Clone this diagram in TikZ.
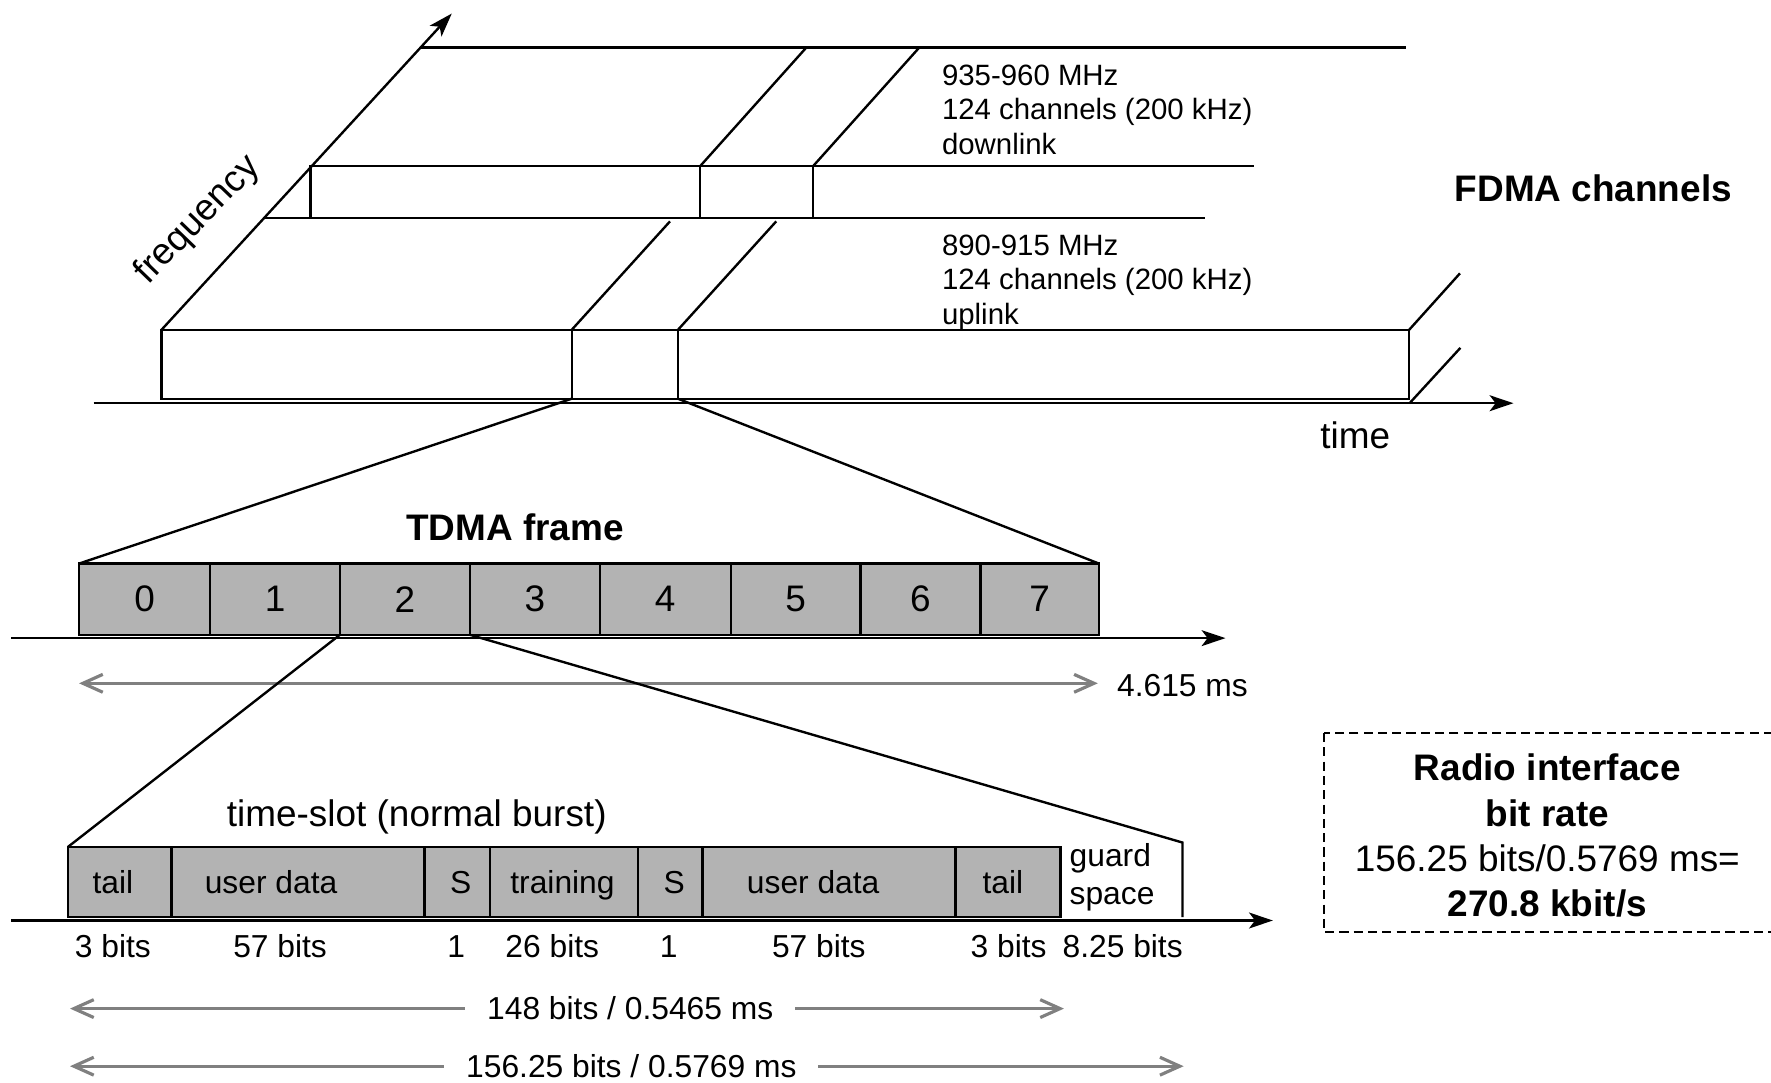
\documentclass[tikz,border=0pt]{standalone}
\usepackage{fontspec}
\setmainfont{Liberation Sans}
\usepackage{xcolor}
\usepackage{tikz}
\usetikzlibrary{arrows.meta, positioning, calc}
\definecolor{slotgray}{HTML}{B3B3B3}
\definecolor{dimgray}{HTML}{808080}
\newcommand{\lblfont}{\fontsize{8}{9.6}\selectfont}
\newcommand{\bandfont}{\fontsize{7.4}{8.7}\selectfont}
\newcommand{\headfont}{\fontsize{9.3}{11.4}\selectfont}

\begin{document}
\begin{tikzpicture}[
    x=0.01cm, y=-0.01cm,
    line width=0.6pt,
    axis/.style={-{Stealth[length=6pt, width=4pt, inset=1.5pt]}},
    dimline/.style={draw=dimgray, line width=0.8pt, {Straight Barb[length=5pt, width=4.5pt]}-{Straight Barb[length=5pt, width=4.5pt]}},
    band/.style={draw, minimum height=0.61cm, inner sep=0pt, outer sep=0pt},
    slot/.style={draw, fill=slotgray, minimum height=0.63cm, inner sep=0pt, outer sep=0pt, font=\headfont},
    field/.style={draw, fill=slotgray, minimum height=0.62cm, inner sep=0pt, outer sep=0pt},
    lbl/.style={font=\lblfont, inner sep=0pt},
    head/.style={font=\headfont, inner sep=0pt},
    gap/.style={font=\lblfont, fill=white, inner xsep=5.5pt, inner ysep=1pt}
]
\useasboundingbox (0,0) rectangle (1568,958);

% FDMA channels
\node[band, minimum width=3.63cm, anchor=north west] (ul1) at (143,292) {};
\node[band, minimum width=0.94cm, right=0pt of ul1] (ul2) {};
\node[band, minimum width=6.47cm, right=0pt of ul2] (ul3) {};

\coordinate (tstart) at (83,357);
\coordinate (tend) at (1340,357);
\coordinate (fend) at (400,12);
\coordinate (ulback) at (234,193);
\coordinate (ulend) at (1067,193);
\coordinate (dlfoot) at (275,193);
\coordinate (dlcorner) at (275,147);
\coordinate (dlend) at (1110,147);
\coordinate (dl2) at (620,147);
\coordinate (dl3) at (720,147);
\coordinate (dlback) at (372,42);
\coordinate (dlbackend) at (1245,42);
\coordinate (brk) at (1248,357);

\draw[axis] (tstart) -- (tend);
\draw[axis] (ul1.north west) -- (fend);
\draw (ulback) -- (ulend);
\draw (ul2.north west) -- ++(87,-96);
\draw (ul3.north west) -- ++(87,-96);
\draw (ul3.north east) -- ++(45,-50);
\draw (brk) -- ++(45,-49);
\draw (dlfoot) -- (dlcorner) -- (dlend);
\draw (dl2) -- ++(0,46);
\draw (dl3) -- ++(0,46);
\draw (dl2) -- ++(94,-105);
\draw (dl3) -- ++(94,-105);
\draw (dlback) -- (dlbackend);

\node[font=\bandfont, align=left, anchor=west, inner sep=0pt] (dllbl) at (833,97) {935-960 MHz\\124 channels (200 kHz)\\downlink};
\node[font=\bandfont, align=left, anchor=west, inner sep=0pt] (ullbl) at (833,250) {890-915 MHz\\124 channels (200 kHz)\\uplink};
\node[head, font=\headfont\bfseries, anchor=west] (fdmalbl) at (1287,167) {FDMA channels};
\node[head] (timelbl) at (1200,385) {time};
\node[head, rotate=46] (freqlbl) at (175,195) {frequency};

% TDMA frame
\node[head, font=\headfont\bfseries] (tdmalbl) at (456,467) {TDMA frame};
\foreach \n/\a/\b in {0/70/186, 1/186/301, 2/301/416, 3/416/531, 4/531/647, 5/647/762, 6/762/868, 7/868/973}
  \node[slot, minimum width={(\b-\a)*0.01cm}] (slot\n) at ({(\a+\b)/2},530.5) {\n};

\draw (ul2.south west) -- (slot0.north west);
\draw (ul3.south west) -- (slot7.north east);
\coordinate (fa0) at (10,565);
\coordinate (fa1) at (1085,565);
\draw[axis] (fa0) -- (fa1);

\coordinate (fr0) at (70,605);
\coordinate (fr1) at (972,605);
\draw[dimline] (fr0) -- (fr1);
\node[lbl, anchor=west] (framelen) at (988,607) {4.615 ms};

% normal burst
\node[head] (burstlbl) at (369,723) {time-slot (normal burst)};
\foreach \n/\a/\b/\t/\c in {1/60/152/tail/100, 2/152/376/user data/240, 3/376/434/S/408, 4/434/565/training/498, 5/565/622/S/597, 6/622/846/user data/720, 7/846/939/tail/888}
{
  \node[field, minimum width={(\b-\a)*0.01cm}] (field\n) at ({(\a+\b)/2},781) {};
  \node[lbl, anchor=base] (fieldtxt\n) at (\c,791) {\t};
}
\node[lbl, align=left, anchor=west] (guardtxt) at (946,777) {guard\\space};

\coordinate (guardtop) at (1047,746);
\coordinate (guardbot) at (1047,812);
\draw (slot2.south west) -- (field1.north west);
\draw (slot3.south west) -- (guardtop) -- (guardbot);
\coordinate (ba0) at (10,815);
\coordinate (ba1) at (1127,815);
\draw[axis] (ba0) -- (ba1);

\foreach \t/\c [count=\k] in {3 bits/100, 57 bits/248, 1/404, 26 bits/489, 1/592, 57 bits/725, 3 bits/893, 8.25 bits/994}
  \node[lbl, anchor=base] (bits\k) at (\c,848) {\t};

\coordinate (b0) at (62,893);
\coordinate (b1) at (942,893);
\draw[dimline] (b0) -- (b1);
\node[gap] (burstlen) at (558,893) {148 bits / 0.5465 ms};
\coordinate (c0) at (62,944);
\coordinate (c1) at (1048,944);
\draw[dimline] (c0) -- (c1);
\node[gap] (slotlen) at (559,944) {156.25 bits / 0.5769 ms};

% bit rate box
\draw[line width=0.4pt, dash pattern=on 2.3pt off 1.3pt] (1172,649) rectangle (1600,825);
\node[head, align=center] (ratetxt) at (1370,740) {\textbf{Radio interface}\\\textbf{bit rate}\\156.25 bits/0.5769 ms=\\\textbf{270.8 kbit/s}};

\end{tikzpicture}
\end{document}
